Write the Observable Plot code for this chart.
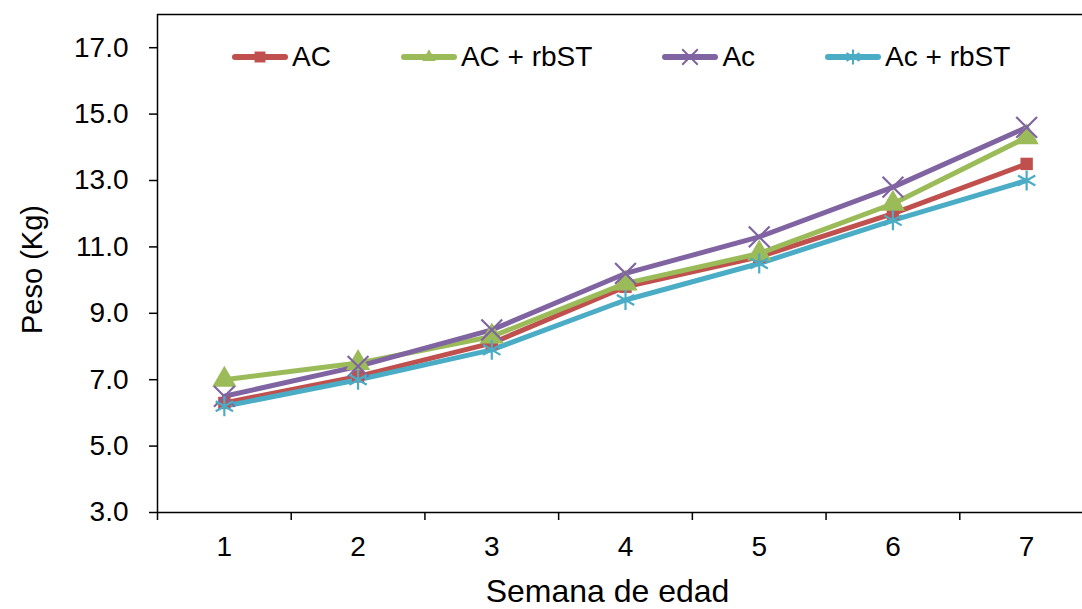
<!DOCTYPE html>
<html><head><meta charset="utf-8">
<script src="https://cdn.jsdelivr.net/npm/d3@7"></script>
<script src="https://cdn.jsdelivr.net/npm/@observablehq/plot@0.6"></script>
<style>
body{margin:0;overflow:hidden;background:#fff;font-family:"Liberation Sans",Arial,sans-serif}
#wrap{position:relative;width:1082px;height:609px;overflow:hidden}
#legend{position:absolute;left:232px;top:40px;display:flex;align-items:center;gap:70px;font-size:28px;color:#000;line-height:34px}
.item{display:flex;align-items:center;gap:4px}
.item svg{display:block}
</style></head><body><div id="wrap"><div id="chart"></div><div id="legend"></div></div>
<script>
const weeks = [1, 2, 3, 4, 5, 6, 7];
const seriesNames = ["AC", "AC + rbST", "Ac", "Ac + rbST"];
const acValues = [6.3, 7.1, 8.1, 9.8, 10.7, 12.0, 13.5];
const acRbstValues = [7.0, 7.5, 8.3, 9.9, 10.8, 12.3, 14.3];
const acLowerValues = [6.5, 7.4, 8.5, 10.2, 11.3, 12.8, 14.6];
const acLowerRbstValues = [6.2, 7.0, 7.9, 9.4, 10.5, 11.8, 13.0];
const yTicks = [3, 5, 7, 9, 11, 13, 15, 17];
const colors = ["#C0504D", "#9BBB59", "#8064A2", "#4BACC6"];
const symbols = ["square", "triangle", "times", "asterisk"];
const yLabel = "Peso (Kg)";
const xLabel = "Semana de edad";

const allValues = [acValues, acRbstValues, acLowerValues, acLowerRbstValues];
const series = seriesNames.map((name, i) => ({
  name, color: colors[i], symbol: symbols[i],
  data: weeks.map((w, j) => ({week: w, value: allValues[i][j]}))
}));
const boundaries = weeks.map(w => w - 0.5);
const xDomain = [0.5, 7.5];
const yDomain = [3, 18];

const marks = [
  Plot.ruleY([yDomain[1]], {stroke: "#000", strokeWidth: 1.5}),
  Plot.ruleY([yDomain[0]], {stroke: "#000", strokeWidth: 1.5}),
  Plot.ruleX([xDomain[0]], {stroke: "#000", strokeWidth: 1.5}),
  Plot.axisY({anchor: "left", ticks: yTicks, tickSize: 8, tickPadding: 21, tickFormat: d => d.toFixed(1), fontSize: 28, stroke: "#000", strokeWidth: 1.5, label: null}),
  Plot.axisX({anchor: "bottom", ticks: boundaries, tickSize: 8, tickFormat: () => "", stroke: "#000", strokeWidth: 1.5, label: null}),
  Plot.axisX({anchor: "bottom", ticks: weeks, tickSize: 0, tickPadding: 24, tickFormat: d => String(d), fontSize: 28, label: null}),
  Plot.text([yLabel], {frameAnchor: "left", textAnchor: "middle", dx: -125, dy: 6, rotate: -90, fontSize: 29, fill: "#000"}),
  Plot.text([xLabel], {frameAnchor: "bottom", dy: 89, dx: -18, fontSize: 32, fill: "#000"})
];
for (const s of series) {
  marks.push(Plot.line(s.data, {x: "week", y: "value", stroke: s.color, strokeWidth: 5}));
}
for (const s of series) {
  const filled = s.symbol === "square" || s.symbol === "triangle";
  marks.push(Plot.dot(s.data, {
    x: "week", y: "value", symbol: s.symbol,
    r: s.symbol === "square" ? 7 : s.symbol === "triangle" ? 9 : 9.5,
    fill: filled ? s.color : "none",
    stroke: filled ? "none" : s.color,
    strokeWidth: 2.2
  }));
}

const chart = Plot.plot({
  width: 1082, height: 609,
  marginLeft: 157, marginRight: -11, marginTop: 14, marginBottom: 97,
  style: {fontFamily: "'Liberation Sans', Arial, sans-serif", color: "#000", background: "#fff"},
  x: {domain: xDomain, axis: null},
  y: {domain: yDomain, axis: null},
  marks
});
document.getElementById("chart").appendChild(chart);

// legend
const legend = document.getElementById("legend");
for (const s of series) {
  const item = document.createElement("div");
  item.className = "item";
  const sym = d3.symbol().type({square: d3.symbolSquare, triangle: d3.symbolTriangle2, times: d3.symbolTimes, asterisk: d3.symbolAsterisk}[s.symbol])
    .size(s.symbol === "square" ? 120 : s.symbol === "triangle" ? 130 : 160);
  const filled = s.symbol === "square" || s.symbol === "triangle";
  const svg = d3.create("svg").attr("width", 56).attr("height", 24);
  svg.append("line").attr("x1", 3).attr("x2", 53).attr("y1", 12).attr("y2", 12)
    .attr("stroke", s.color).attr("stroke-width", 6).attr("stroke-linecap", "round");
  svg.append("path").attr("d", sym()).attr("transform", "translate(28,12)")
    .attr("fill", filled ? s.color : "none").attr("stroke", filled ? "none" : s.color).attr("stroke-width", 2);
  item.appendChild(svg.node());
  const t = document.createElement("span");
  t.textContent = s.name;
  item.appendChild(t);
  legend.appendChild(item);
}
</script></body></html>
